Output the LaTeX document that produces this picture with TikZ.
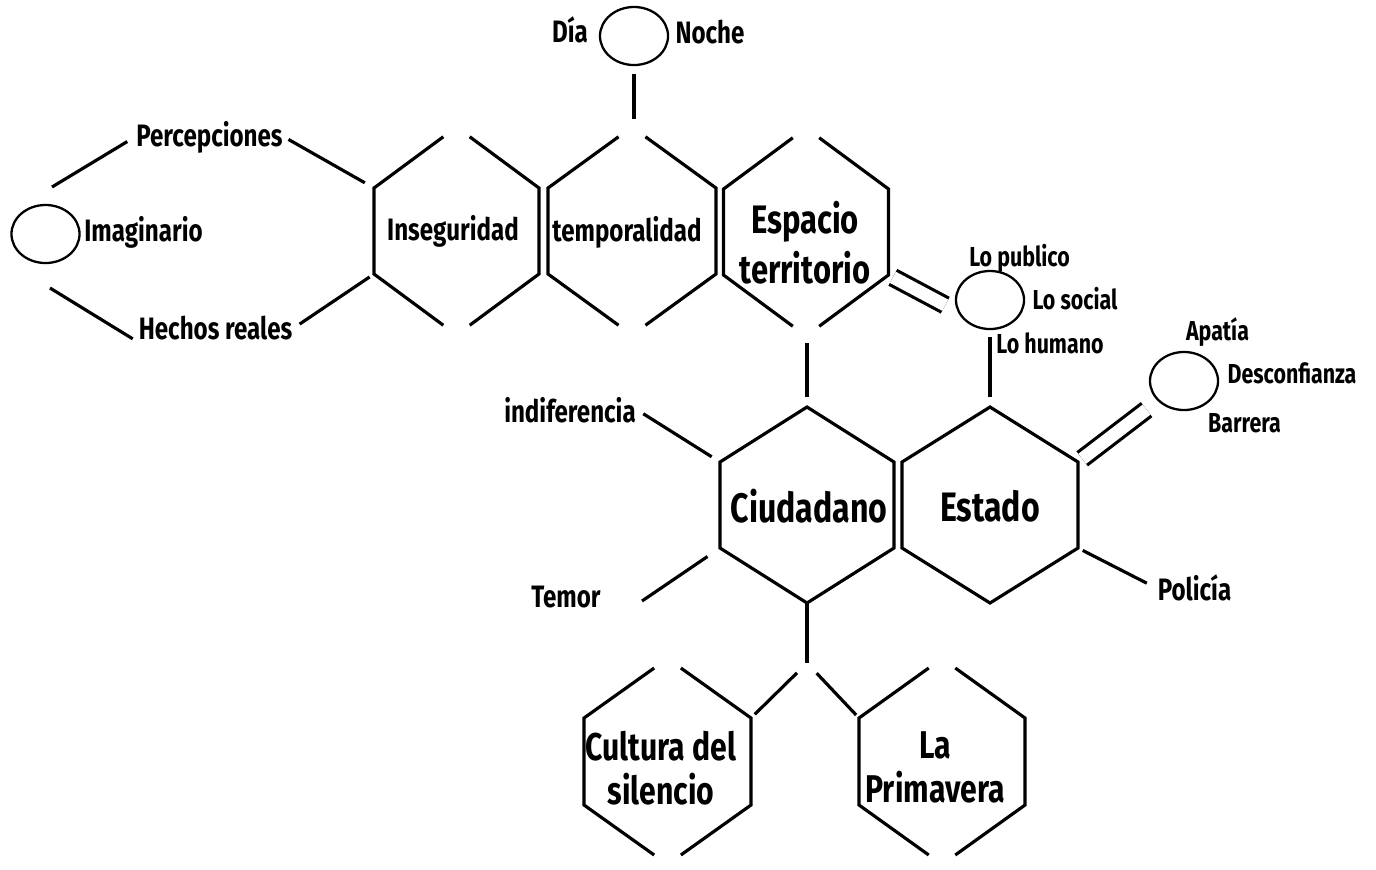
\documentclass[tikz,border=0pt]{standalone}
\usepackage{fontspec}
\newfontfamily\agency[FakeStretch=0.78]{Fira Sans}
\usetikzlibrary{shapes.geometric, calc}
\tikzset{
  every picture/.style={line width=0.9pt, x=0.01cm, y=-0.01cm},
  bubble/.style={draw, ellipse, minimum width=0.68cm, minimum height=0.58cm, inner sep=0pt, line width=0.65pt},
  lbl/.style={font=\agency\bfseries\fontsize{8.8}{10}\selectfont, inner sep=0pt},
  sublbl/.style={font=\agency\bfseries\fontsize{7.8}{9}\selectfont, inner sep=0pt},
  hexlbl/.style={font=\agency\bfseries\fontsize{11.3}{14.2}\selectfont, align=center, inner sep=0pt},
  bighex/.style={font=\agency\bfseries\fontsize{11.7}{14}\selectfont, inner sep=0pt},
  twin/.style={double, double distance=3.6pt},
}

\begin{document}
\begin{tikzpicture}
  \useasboundingbox (0,0) rectangle (1376,869);
  \newcommand{\hexpts}[6]{% name, centre x, centre y, half width, shoulder, apex
    \coordinate (#1-t) at (#2,#3-#6);
    \coordinate (#1-b) at (#2,#3+#6);
    \coordinate (#1-ul) at (#2-#4,#3-#5);
    \coordinate (#1-ur) at (#2+#4,#3-#5);
    \coordinate (#1-ll) at (#2-#4,#3+#5);
    \coordinate (#1-lr) at (#2+#4,#3+#5);
  }
  \newcommand{\gaphex}[1]{% hexagon left open at both apexes
    \draw ($(#1-ul)!0.84!(#1-t)$) -- (#1-ul) -- (#1-ll) -- ($(#1-ll)!0.84!(#1-b)$);
    \draw ($(#1-ur)!0.84!(#1-t)$) -- (#1-ur) -- (#1-lr) -- ($(#1-lr)!0.84!(#1-b)$);
  }

  % top row
  \hexpts{ins}{456.5}{231}{82.5}{43}{104}
  \hexpts{tmp}{632}{231}{84}{43}{104}
  \hexpts{esp}{806}{232}{82.5}{43}{104}
  \gaphex{ins} \gaphex{tmp} \gaphex{esp}
  \node[lbl] (ins) at (453,231) {Inseguridad};
  \node[lbl] (tmp) at (627,232) {temporalidad};
  \node[hexlbl] (esp) at (805,243) {Espacio\\territorio};

  % middle row
  \hexpts{ciu}{807}{505}{87}{43}{98}
  \hexpts{est}{990}{505}{88}{43}{98}
  \draw (ciu-t) -- (ciu-ur) -- (ciu-lr) -- (ciu-b) -- (ciu-ll) -- (ciu-ul) -- cycle;
  \draw (est-t) -- (est-ur) -- (est-lr) -- (est-b) -- (est-ll) -- (est-ul) -- cycle;
  \node[bighex] (ciu) at (809,506) {Ciudadano};
  \node[bighex] (est) at (990,506) {Estado};

  % bottom row
  \hexpts{cul}{667.5}{761.5}{83.5}{43.5}{103}
  \hexpts{pri}{942}{761.5}{83}{43.5}{103}
  \gaphex{cul} \gaphex{pri}
  \node[hexlbl, font=\agency\bfseries\fontsize{11}{12.5}\selectfont] (cul) at (661,768) {Cultura del\\silencio};
  \node[hexlbl, font=\agency\bfseries\fontsize{11}{12.5}\selectfont] (pri) at (935,767) {La\\Primavera};

  % imaginario
  \node[bubble] (imag) at (45.5,234) {};
  \node[lbl] (imtxt) at (143.5,232) {Imaginario};
  \node[lbl] (perc) at (209.5,137) {Percepciones};
  \node[lbl] (hech) at (215.5,328) {Hechos reales};
  \coordinate (im-up) at (52,187);
  \coordinate (im-dn) at (50,288);
  \draw[shorten >=2.5pt] (im-up) -- (perc.west);
  \draw[shorten >=1.5pt] (im-dn) -- (hech.south west);
  \draw[shorten <=1.4pt, shorten >=3pt] (perc.east) -- (ins-ul);
  \draw[shorten <=2pt, shorten >=1.5pt] (hech.east) -- (ins-ll);

  % dia / noche
  \node[bubble] (dn) at (634,36) {};
  \node[lbl] (dia) at (570,30) {Día};
  \node[lbl] (noche) at (710,32) {Noche};
  \draw[shorten <=2.3pt, shorten >=2.3pt] (dn) -- (dn |- tmp-t);

  % espacio - lo social - estado
  \node[bubble] (soc) at (990,300) {};
  \node[sublbl] (pub) at (1019.5,258) {Lo publico};
  \node[sublbl] (lsoc) at (1075,299) {Lo social};
  \node[sublbl] (hum) at (1050,343) {Lo humano};
  \draw[twin, shorten <=1.4pt, shorten >=4pt] (esp-lr) -- (soc.200);
  \draw[shorten <=2pt, shorten >=2.8pt] (ciu-t |- esp-b) -- (ciu-t);
  \draw[shorten <=2pt, shorten >=2.8pt] (soc) -- (est-t);

  % estado
  \node[bubble] (apa) at (1184,381) {};
  \node[sublbl] (apt) at (1217.5,332) {Apatía};
  \node[sublbl] (desc) at (1292,373) {Desconfianza};
  \node[sublbl] (barr) at (1244.5,423) {Barrera};
  \node[lbl] (pol) at (1194.5,588) {Policía};
  \draw[twin, shorten <=1.5pt, shorten >=4pt] (est-ur) -- (apa);
  \draw[shorten <=1.5pt, shorten >=3pt] (est-lr) -- (pol.west);

  % ciudadano
  \node[lbl] (ind) at (570,410) {indiferencia};
  \node[lbl] (tem) at (566,597) {Temor};
  \coordinate (tem-end) at (642,601);
  \coordinate (jn) at (807,663);
  \draw[shorten <=2pt, shorten >=2.8pt] (ind.east) -- (ciu-ul);
  \draw[shorten >=4.3pt] (tem-end) -- (ciu-ll);
  \draw (ciu-b) -- (jn);
  \draw[shorten <=4pt, shorten >=1.5pt] (jn) -- (cul-ur);
  \draw[shorten <=4pt, shorten >=1.2pt] (jn) -- (pri-ul);
\end{tikzpicture}
\end{document}
